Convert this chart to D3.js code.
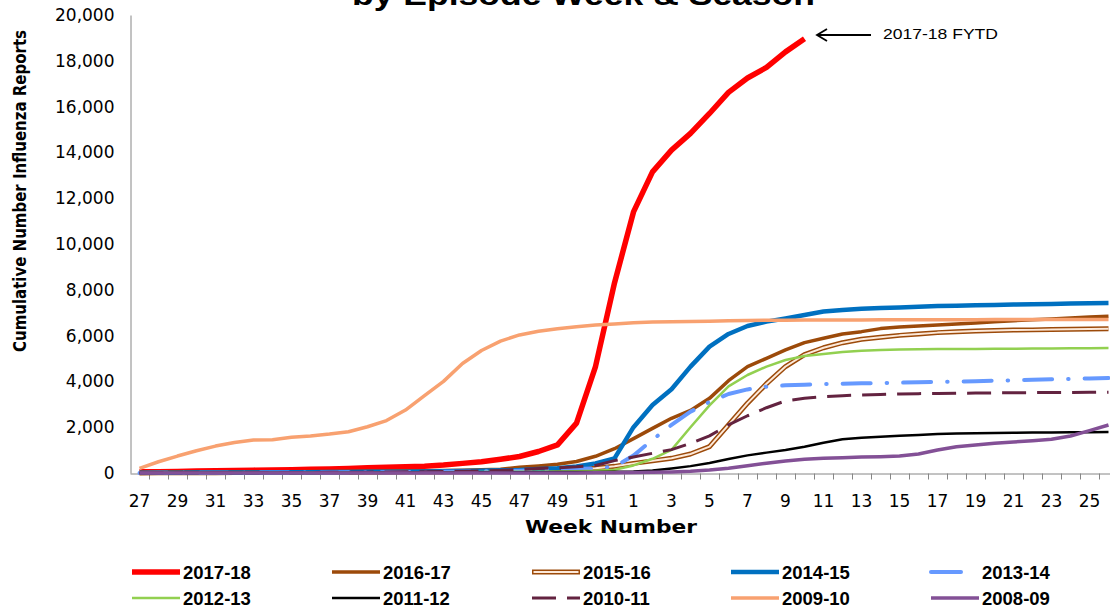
<!DOCTYPE html>
<html>
<head>
<meta charset="utf-8">
<script src="https://cdn.jsdelivr.net/npm/d3@7"></script>
<style>
  body { margin: 0; background: #fff; }
  svg { display: block; }
</style>
</head>
<body>
<div id="chart"></div>
<script>
// episode weeks, season runs week 27 through to week 26
const weeks = ["27","28","29","30","31","32","33","34","35","36","37","38","39","40","41","42","43","44","45","46","47","48","49","50","51","52",
  "1","2","3","4","5","6","7","8","9","10","11","12","13","14","15","16","17","18","19","20","21","22","23","24","25","26"];

const yTicks = [0, 2000, 4000, 6000, 8000, 10000, 12000, 14000, 16000, 18000, 20000];

const seasons = ["2017-18", "2016-17", "2015-16", "2014-15", "2013-14", "2012-13", "2011-12", "2010-11", "2009-10", "2008-09"];

// cumulative reports by week (2017-18 is year to date, ends week 10)
const s2017_18 = [50,60,70,85,100,110,125,135,145,160,180,200,230,250,270,295,345,420,495,600,720,940,1230,2180,4650,8300,
  11400,13150,14100,14830,15700,16620,17250,17710,18390,18960];
const s2016_17 = [10,15,20,25,30,35,40,45,50,55,60,65,70,80,90,100,110,125,140,165,250,310,380,500,730,1060,
  1500,1950,2388,2730,3260,4030,4645,5009,5373,5693,5882,6072,6173,6305,6377,6421,6464,6508,6552,6600,6650,6690,6730,6770,6810,6840];
const s2015_16 = [5,8,10,12,15,18,20,22,25,28,30,35,40,45,50,55,60,70,80,95,110,130,150,175,205,290,
  420,530,640,830,1150,2100,3050,3900,4650,5170,5470,5690,5840,5930,6010,6070,6130,6170,6200,6220,6240,6250,6265,6280,6290,6300];
const s2014_15 = [10,12,15,18,20,22,25,28,30,35,40,45,50,55,60,70,80,90,100,115,130,170,205,280,420,640,
  2000,2970,3660,4645,5518,6071,6421,6610,6750,6900,7050,7120,7170,7200,7230,7260,7290,7300,7320,7340,7360,7370,7380,7400,7410,7420];
const s2013_14 = [5,6,8,10,12,14,16,18,20,22,25,28,30,35,40,45,50,60,70,85,100,120,150,180,205,280,
  760,1450,2100,2680,3100,3450,3650,3770,3829,3858,3887,3902,3917,3930,3945,3960,3975,3990,4010,4030,4050,4070,4090,4110,4130,4150];
const s2012_13 = [5,6,8,10,12,14,15,16,18,20,22,24,26,28,30,32,35,40,45,50,55,60,70,80,100,140,
  330,620,1010,2000,2950,3780,4280,4645,4936,5111,5198,5285,5343,5373,5390,5400,5410,5415,5420,5425,5430,5435,5440,5445,5450,5455];
const s2011_12 = [5,5,6,7,8,9,10,11,12,13,14,15,16,18,20,22,24,26,28,30,33,36,40,44,48,52,
  70,110,200,300,440,610,770,890,1005,1150,1325,1471,1543,1587,1631,1660,1700,1720,1735,1745,1755,1765,1770,1775,1780,1785];
const s2010_11 = [5,6,8,10,12,14,16,18,20,24,28,32,38,44,50,60,70,80,90,120,150,200,230,270,330,540,
  700,860,1020,1290,1620,2100,2500,2850,3150,3261,3334,3378,3407,3430,3450,3465,3475,3485,3490,3500,3505,3510,3515,3520,3525,3530];
const s2009_10 = [205,490,740,970,1175,1330,1440,1450,1560,1620,1700,1800,2020,2290,2750,3380,4000,4780,5350,5760,6030,6190,6300,6390,6460,6510,
  6560,6590,6610,6620,6630,6645,6660,6670,6675,6680,6680,6685,6685,6690,6690,6690,6695,6695,6695,6700,6700,6700,6700,6705,6705,6705];
const s2008_09 = [0,0,0,0,0,0,0,0,0,0,1,1,1,1,2,2,2,3,3,3,4,4,5,5,6,8,
  20,30,44,73,130,210,320,430,524,597,641,670,699,713,743,830,1005,1150,1223,1296,1354,1412,1471,1616,1849,2097];

const seriesValues = [s2017_18, s2016_17, s2015_16, s2014_15, s2013_14, s2012_13, s2011_12, s2010_11, s2009_10, s2008_09];

// line styles per season
const styles = {
  "2017-18": {color: "#ff0000", width: 5.5},
  "2016-17": {color: "#9c4a0a", width: 3.5},
  "2015-16": {color: "#9c4a0a", width: 5, inner: "#fde9d9", innerWidth: 2},
  "2014-15": {color: "#0070c0", width: 4.5},
  "2013-14": {color: "#6699ff", width: 4, dash: "28,16,0.5,16", cap: "round", legendLen: 30},
  "2012-13": {color: "#92d050", width: 2.5},
  "2011-12": {color: "#000000", width: 2.5},
  "2010-11": {color: "#632340", width: 3, dash: "24,11"},
  "2009-10": {color: "#f8a170", width: 3.5},
  "2008-09": {color: "#835096", width: 3.5}
};

const config = {
  width: 1110,
  height: 609,
  left: 130,
  top: 15,
  bottom: 473,
  step: 19
};

window.addEventListener("DOMContentLoaded", main);

function main() {
  const svg = d3.select("#chart")
    .append("svg")
    .attr("width", config.width)
    .attr("height", config.height)
    .style("background", "#fff");

  const x = d3.scaleBand()
    .domain(weeks)
    .range([config.left, config.left + weeks.length * config.step]);

  const y = d3.scaleLinear()
    .domain([0, 20000])
    .range([config.bottom, config.top]);

  // title (top line is cut off in the source image)
  svg.append("text")
    .attr("x", 352)
    .attr("y", 5)
    .attr("textLength", 463)
    .attr("lengthAdjust", "spacingAndGlyphs")
    .style("font-family", "'Liberation Sans', Arial, sans-serif")
    .style("font-weight", "bold")
    .style("font-size", "29px")
    .text("by Episode Week & Season");

  // y axis
  const yAxis = svg.append("g")
    .attr("transform", `translate(${config.left + 0.5},0)`)
    .call(d3.axisLeft(y).tickValues(yTicks).tickSize(0).tickPadding(16).tickFormat(d3.format(",")));
  yAxis.select(".domain").attr("stroke", "#868686");
  yAxis.selectAll("text")
    .style("font-family", "'DejaVu Sans', Verdana, sans-serif")
    .style("font-size", "17px")
    .attr("fill", "#000");

  // x axis, labels on every other week, tick marks between categories
  const xAxis = svg.append("g")
    .attr("transform", `translate(0,${config.bottom + 0.5})`)
    .call(d3.axisBottom(x).tickSize(0).tickPadding(21)
      .tickFormat((d, i) => i % 2 == 0 ? d : ""));
  xAxis.select(".domain").attr("stroke", "#868686");
  xAxis.selectAll("text")
    .style("font-family", "'DejaVu Sans', Verdana, sans-serif")
    .style("font-size", "17px")
    .attr("fill", "#000");
  xAxis.selectAll(".sep")
    .data(weeks)
    .enter()
    .append("line")
    .attr("class", "sep")
    .attr("x1", d => Math.round(x(d) + x.bandwidth()) + 0.5)
    .attr("x2", d => Math.round(x(d) + x.bandwidth()) + 0.5)
    .attr("y1", 0)
    .attr("y2", 6)
    .attr("stroke", "#868686");

  // axis titles
  svg.append("text")
    .attr("transform", "translate(26,191) rotate(-90)")
    .attr("text-anchor", "middle")
    .attr("textLength", 322)
    .attr("lengthAdjust", "spacingAndGlyphs")
    .style("font-family", "'Liberation Sans Narrow', 'DejaVu Sans Condensed', sans-serif")
    .style("font-weight", "bold")
    .style("font-size", "17px")
    .text("Cumulative  Number Influenza Reports");

  svg.append("text")
    .attr("x", 611)
    .attr("y", 533)
    .attr("text-anchor", "middle")
    .attr("textLength", 172)
    .attr("lengthAdjust", "spacingAndGlyphs")
    .style("font-family", "'DejaVu Sans', Verdana, sans-serif")
    .style("font-weight", "bold")
    .style("font-size", "17px")
    .text("Week Number");

  // season lines
  const line = d3.line()
    .x((d, i) => x(weeks[i]) + x.bandwidth() / 2)
    .y(d => y(d));

  const g = svg.append("g");
  seasons.forEach(function(s, k) {
    const st = styles[s];
    g.append("path")
      .datum(seriesValues[k])
      .attr("d", line)
      .attr("fill", "none")
      .attr("stroke", st.color)
      .attr("stroke-width", st.width)
      .attr("stroke-linejoin", "round")
      .attr("stroke-linecap", st.cap || "butt")
      .attr("stroke-dasharray", st.dash || null);
    if (st.inner) {
      g.append("path")
        .datum(seriesValues[k])
        .attr("d", line)
        .attr("fill", "none")
        .attr("stroke", st.inner)
        .attr("stroke-width", st.innerWidth)
        .attr("stroke-linejoin", "round");
    }
  });

  // annotation for current season
  const ann = svg.append("g").attr("stroke", "#000").attr("stroke-width", 1.8).attr("fill", "none");
  ann.append("line").attr("x1", 871).attr("y1", 35).attr("x2", 817).attr("y2", 35);
  ann.append("path").attr("d", "M827,29 L817,35 L827,41");
  svg.append("text")
    .attr("x", 883)
    .attr("y", 39)
    .attr("textLength", 115)
    .attr("lengthAdjust", "spacingAndGlyphs")
    .style("font-family", "'Liberation Sans', Arial, sans-serif")
    .style("font-size", "15px")
    .text("2017-18 FYTD");

  // legend, two rows of five
  const legendX = [183, 383, 583, 782, 982];
  const legendY = [572, 598];
  seasons.forEach(function(s, k) {
    const st = styles[s];
    const tx = legendX[k % 5];
    const ly = legendY[Math.floor(k / 5)];
    const x1 = tx - 51;
    const x2 = st.legendLen ? x1 + st.legendLen : tx - 3;
    svg.append("line")
      .attr("x1", x1).attr("x2", x2).attr("y1", ly).attr("y2", ly)
      .attr("stroke", st.color)
      .attr("stroke-width", st.width)
      .attr("stroke-linecap", st.cap || "butt")
      .attr("stroke-dasharray", st.legendLen ? null : (st.dash || null));
    if (st.inner) {
      svg.append("line")
        .attr("x1", x1 + 1.5).attr("x2", x2 - 1.5).attr("y1", ly).attr("y2", ly)
        .attr("stroke", st.inner)
        .attr("stroke-width", st.innerWidth);
    }
    svg.append("text")
      .attr("x", tx)
      .attr("y", ly + 6.5)
      .style("font-family", "'Liberation Sans', Arial, sans-serif")
      .style("font-weight", "bold")
      .style("font-size", "18.5px")
      .text(s);
  });
}
</script>
</body>
</html>
